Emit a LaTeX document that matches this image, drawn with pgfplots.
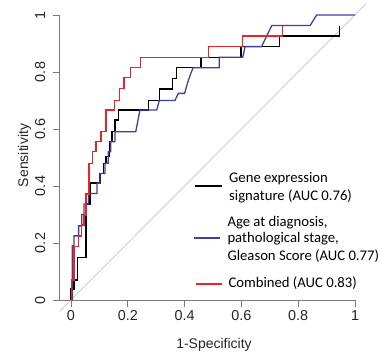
\documentclass[border=0pt]{standalone}
\usepackage{fontspec}
\setmainfont{Liberation Sans}
\newfontfamily\cali{Carlito}
\usepackage{pgfplots}
\pgfplotsset{compat=1.18}
\definecolor{rocred}{HTML}{E8232B}
\definecolor{rocblue}{HTML}{3D42A0}
\definecolor{axgray}{HTML}{7A7A7A}
\definecolor{diaggray}{HTML}{C4C4C4}
\begin{document}
\begin{tikzpicture}[x=1bp,y=1bp]
\useasboundingbox (0,0) rectangle (387,360);
\begin{axis}[
  at={(59.6bp,60bp)}, anchor=south west,
  scale only axis, width=295.4bp, height=285bp,
  xmin=-0.04, xmax=1, ymin=0, ymax=1,
  axis x line*=bottom, axis y line*=left,
  axis line style={axgray, line width=0.8bp, -},
  xtick={0,0.2,0.4,0.6,0.8,1}, ytick={0,0.2,0.4,0.6,0.8,1},
  xticklabels={0,0.2,0.4,0.6,0.8,1}, yticklabels={},
  tick align=outside, major tick length=7bp,
  tick style={axgray, line width=0.8bp},
  /pgf/number format/assume math mode=true,
  ticklabel style={font=\fontsize{14.4bp}{16bp}\selectfont, text=black!85},
  clip=false,
]
\addplot[diaggray, line width=0.7bp] coordinates {(-0.04,-0.04) (1.04,1.04)};
% Gene expression signature
\addplot[black, line width=1.3bp, line join=miter] coordinates {
(0,0) (0,0.039) (0.011,0.039) (0.011,0.07) (0.022,0.07) (0.022,0.15)
(0.053,0.15) (0.053,0.337) (0.067,0.337) (0.067,0.41) (0.102,0.41)
(0.102,0.444) (0.114,0.444) (0.114,0.48) (0.123,0.48) (0.123,0.503)
(0.135,0.503) (0.135,0.555) (0.145,0.555) (0.145,0.59) (0.155,0.59)
(0.155,0.632) (0.167,0.632) (0.167,0.667) (0.272,0.667) (0.272,0.70)
(0.311,0.70) (0.311,0.74) (0.358,0.74) (0.358,0.778) (0.372,0.778)
(0.372,0.815) (0.458,0.815) (0.458,0.852) (0.599,0.852) (0.599,0.889)
(0.733,0.889) (0.733,0.926) (0.945,0.926) (0.945,0.961)};
% Age, stage, Gleason
\addplot[rocblue, line width=1.3bp, line join=miter] coordinates {
(0,0) (0.005,0) (0.005,0.19) (0.011,0.19) (0.011,0.225) (0.027,0.225)
(0.027,0.26) (0.038,0.26) (0.038,0.30) (0.046,0.30) (0.046,0.337)
(0.062,0.337) (0.062,0.374) (0.092,0.374) (0.092,0.41) (0.102,0.41)
(0.102,0.444) (0.12,0.444) (0.12,0.48) (0.131,0.48) (0.131,0.52)
(0.14,0.52) (0.14,0.555) (0.155,0.555) (0.155,0.59) (0.228,0.59)
(0.243,0.667) (0.302,0.667) (0.311,0.70) (0.366,0.70) (0.378,0.725)
(0.40,0.725) (0.41,0.76) (0.42,0.79) (0.43,0.815) (0.522,0.815)
(0.522,0.852) (0.605,0.852) (0.613,0.889) (0.671,0.889) (0.707,0.963)
(0.842,0.963) (0.865,1) (1,1)};
% Combined
\addplot[rocred, line width=1.3bp, line join=miter] coordinates {
(0,0) (0.003,0) (0.003,0.07) (0.011,0.07) (0.011,0.187) (0.026,0.187)
(0.026,0.225) (0.038,0.225) (0.038,0.263) (0.046,0.263) (0.046,0.298)
(0.053,0.298) (0.053,0.372) (0.064,0.372) (0.064,0.48) (0.076,0.48)
(0.076,0.52) (0.088,0.52) (0.088,0.555) (0.106,0.555) (0.106,0.59)
(0.123,0.59) (0.123,0.667) (0.153,0.667) (0.153,0.70) (0.17,0.70)
(0.17,0.743) (0.187,0.743) (0.187,0.78) (0.21,0.78) (0.21,0.815)
(0.245,0.815) (0.245,0.852) (0.484,0.852) (0.484,0.889) (0.605,0.889)
(0.605,0.926) (0.745,0.926) (0.745,0.963)};
\end{axis}
% rotated y tick labels (baseline at x=45)
\begin{scope}[every node/.style={rotate=90, anchor=base, inner sep=0pt, font=\fontsize{14.4bp}{16bp}\selectfont, text=black!85}]
\node at (45,60) {0};
\node at (45,117) {0.2};
\node at (45,174) {0.4};
\node at (45,231) {0.6};
\node at (45,288) {0.8};
\node at (45,345) {1};
\end{scope}
% axis titles
\node[anchor=base, font=\fontsize{14bp}{16bp}\selectfont, text=black!85] at (214,12) {1-Specificity};
\node[rotate=90, anchor=base, font=\fontsize{14bp}{16bp}\selectfont, text=black!85] at (28,204.5) {Sensitivity};
% legend
\begin{scope}[font=\cali\fontsize{14.7bp}{17bp}\selectfont]
\draw[black, line width=1.1bp] (195,174) -- (221.7,174);
\node[anchor=base west, inner sep=0pt] at (229,177.3) {Gene expression};
\node[anchor=base west, inner sep=0pt] at (229,159.3) {signature (AUC 0.76)};
\draw[rocblue, line width=1.1bp] (194,122) -- (220,122);
\node[anchor=base west, inner sep=0pt] at (227.3,134) {Age at diagnosis,};
\node[anchor=base west, inner sep=0pt] at (227.3,117.3) {pathological stage,};
\node[anchor=base west, inner sep=0pt] at (227.3,99.3) {Gleason Score (AUC 0.77)};
\draw[rocred, line width=1.1bp] (196,76) -- (221.7,76);
\node[anchor=base west, inner sep=0pt] at (228.3,72.3) {Combined (AUC 0.83)};
\end{scope}
\end{tikzpicture}
\end{document}
